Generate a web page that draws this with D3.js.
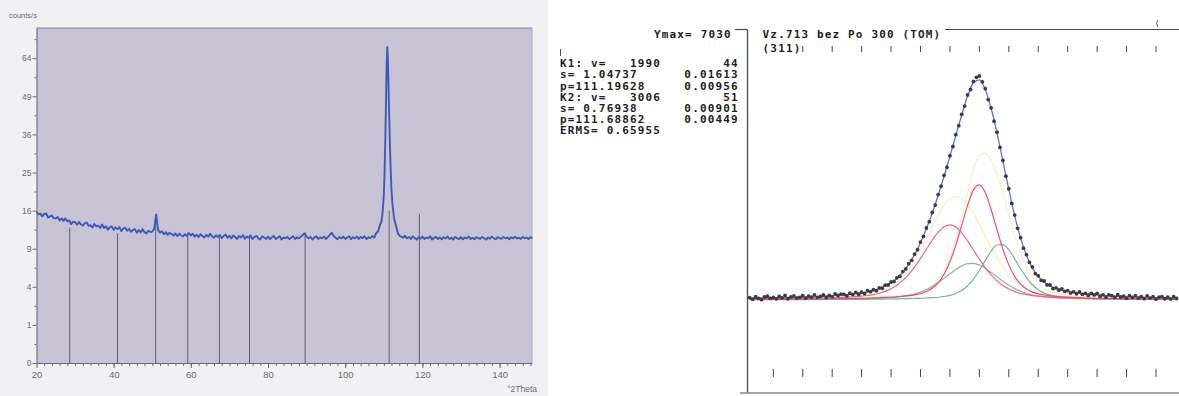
<!DOCTYPE html>
<html><head><meta charset="utf-8">
<script src="https://cdn.jsdelivr.net/npm/d3@7"></script>
<style>
html,body{margin:0;padding:0;background:#fff;}
svg{display:block;}
.mono{font-family:"DejaVu Sans Mono",monospace;font-weight:bold;font-size:11px;letter-spacing:1.15px;white-space:pre;fill:#1e1e22;}
</style></head><body>
<svg id="c" width="1179" height="396"></svg>
<script>
// ================= LEFT PANEL: XRD pattern (sqrt intensity scale) =================
const xrdLowStart = 20, xrdStep = 0.5;
const xrdLowCounts = [
 15.8,15.2,15.4,14.8,15.3,15.4,14.6,14.8,15.0,14.4,
 14.4,14.7,14.0,14.4,13.9,14.4,13.8,14.0,13.3,13.75,
 13.7,13.15,13.7,13.25,13.0,13.45,13.6,12.95,13.1,12.65,
 13.3,12.85,13.0,12.55,13.2,12.55,12.9,12.25,12.7,12.85,
 12.2,12.67,12.35,12.72,12.0,12.45,12.6,12.05,12.4,11.85,
 12.2,12.35,11.7,12.17,11.75,12.32,11.8,11.57,12.05,11.82,
 11.9,12.4,15.2,12.2,11.7,11.95,11.4,11.8,11.3,11.7,
 11.45,11.2,11.55,11.1,11.5,11.25,11.05,11.45,11.1,11.6,
 11.2,11.5,11.0,11.35,10.95,11.4,11.1,10.85,11.3,11.0,
 11.5,11.05,10.8,11.25,10.9,11.3,10.75,11.1,11.35,10.8,
 11.15,10.7,11.2,10.9,10.6,11.1,10.85,11.25,10.65,11.0,
 10.8,11.2,10.6,10.95,11.15,10.7,10.5,11.05,10.85,10.6,
 11.0,10.55,10.9,11.1,10.6,10.8,11.05,10.5,10.85,10.7,
 10.95,10.55,10.8,11.05,10.6,10.9,10.7,11.0,11.3,11.6,
 11.0,10.7,10.95,10.5,10.85,11.05,10.6,10.9,10.7,11.0,
 10.6,10.9,11.3,11.7,11.1,10.8,10.55,10.95,10.7,11.0,
 10.6,10.85,11.05,10.55,10.9,10.7,11.0,10.6,10.95,10.75,
 11.05,10.6,10.9,10.75,11.1,10.8
];
const peakTheta  = [108.0,108.5,109.0,109.4,109.7,110.0,110.2,110.4,110.6,110.75,110.9,111.05,111.2,111.4,111.6,111.8,112.0,112.3,112.7,113.2,113.7,114.2];
const peakCounts = [11.6,11.9,13.1,13.8,15.8,19.5,25,35,50,62,68.8,64,54,42,32,25,20.5,16.8,14.3,12.8,11.5,11.1];
const xrdHighStart = 114.5;
const xrdHighCounts = [
 11.0,10.8,11.15,10.7,10.95,10.6,11.05,10.75,10.5,10.9,10.65,
 11.0,10.6,10.85,10.7,11.05,10.5,10.8,10.95,10.6,10.85,
 10.55,10.9,10.7,11.0,10.6,10.8,10.5,10.95,10.7,10.6,
 10.9,10.55,10.85,10.7,11.0,10.6,10.8,10.55,10.9,10.75,
 10.6,10.95,10.7,10.5,10.85,10.65,11.0,10.7,10.55,10.9,
 10.75,10.6,10.95,10.7,10.85,10.55,10.9,10.7,11.0,10.65,
 10.8,10.6,10.95,10.7,10.85,10.6,10.9,10.75
];
const stickTheta  = [28.6, 41.0, 50.9, 59.2, 67.4, 75.2, 89.6, 111.4, 119.2];
const stickCounts = [12.6, 11.6, 15.2, 11.8, 10.9, 11.3, 11.3, 16.0, 15.3];
const yTickValues = [0,1,4,9,16,25,36,49,64];
const yMinorTicks = [0.25,2.25,6.25,12.25,20.25,30.25,42.25,56.25,72.25];
const xTickValues = [20,40,60,80,100,120,140];

// ================= RIGHT PANEL: profile fit of (311) =================
const infoLines = [
 "K1: v=   1990        44",
 "s= 1.04737      0.01613",
 "p=111.19628     0.00956",
 "K2: v=   3006        51",
 "s= 0.76938      0.00901",
 "p=111.68862     0.00449",
 "ERMS= 0.65955"
];
const ymaxLabel = "Ymax= 7030";
const fitTitle = "Vz.713 bez Po 300 (TOM)";
const reflexLabel = "(311)";
const topTickTheta    = [108.7,109.2,109.7,110.2,110.7,111.2,111.7,112.2,112.7,113.2,113.7,114.2,114.7];
const bottomTickTheta = [108.2,108.7,109.2,109.7,110.2,110.7,111.2,111.7,112.2,112.7,113.2,113.7,114.2,114.7];

const obsStart = 107.8, obsStep = 0.05;
const obsCounts = [
 2098,2063,2119,2083,2053,2113,2131,2083,2105,2072,
 2125,2095,2147,2074,2118,2137,2089,2106,2143,2088,
 2133,2108,2161,2107,2128,2158,2102,2149,2121,2181,
 2147,2178,
 2172,2137,2197,2167,2217,2175,2219,2190,2255,2231,
 2277,2254,2314,2308,2377,2380,2447,2458,2541,2574,
 2679,2738,2855,2929,3066,3165,3335,3463,3650,3790,
 3993,4159,4391,4580,4821,5000,5256,5462,5725,5926,
 6178,6360,6608,6730,6909,7000,7030,6900,6750,6505,
 6322,6023,5781,5440,5151,4800,4522,4195,3937,3642,
 3433,3200,3056,2882,2782,2633,2586,2482,2469,2383,
 2380,2300,2318,2265,2296,2237,2257,2201,2228,2186,
 2227,
 2173,2195,2149,2195,2159,2196,2130,2161,2110,2161,
 2143,2106,2163,2113,2132,2083,2143,2105,2143,2088,
 2122,2076,2140,2090,2121,2064,2108,2124,2075,2109,
 2067,2121,2080
];
const fitBackground = 2050;
const fitTheta = [107.8,108.6,109.0,
 109.4,109.5,109.6,109.7,109.8,109.9,110.0,110.1,110.2,110.3,110.4,110.5,110.6,110.7,110.8,110.9,111.0,
 111.1,111.2,111.3,111.4,111.5,111.6,111.7,111.8,111.9,112.0,112.1,112.2,112.3,112.4,112.5,112.6,112.7,112.8,112.9,113.0,
 113.2,113.4,113.8,114.4,115.05];
const k1Alpha1 = [16,28,38, 56,62,71,82,97,117,146,188,247,327,433,568,732,921,1125,1327,1505,1628,1670,1621,1492,1312,1108,905,718,556,423,319,241,184,144,116,95,81,70,62,55, 45,38,28,18,13];
const k1Alpha2 = [7,10,14, 19,21,23,25,28,32,36,42,50,61,77,99,131,174,229,300,384,479,579,676,756,805,813,776,704,611,511,413,325,250,190,143,108,83,66,53,44, 33,26,18,11,8];
const k2Alpha1 = [9,15,19, 27,29,32,35,39,43,48,54,61,69,80,93,112,140,185,258,379,570,848,1218,1657,2103,2446,2558,2386,2009,1557,1129,778,521,347,239,173,133,108,90,77, 59,47,31,19,13];
const k2Alpha2 = [4,6,7, 10,10,11,12,13,15,16,18,19,22,24,27,31,35,41,48,58,74,99,140,208,313,462,654,872,1081,1220,1230,1113,912,692,493,336,224,150,105,77, 50,36,22,12,8];
const k1Sum = [23,38,52, 75,83,94,107,125,149,182,230,297,388,510,667,863,1095,1354,1627,1889,2107,2249,2297,2248,2117,1921,1681,1422,1167,934,732,566,434,334,259,203,164,136,115,99, 78,64,46,29,21];
const k2Sum = [13,21,26, 37,39,43,47,52,58,64,72,80,91,104,120,143,175,226,306,437,644,947,1358,1865,2416,2908,3212,3258,3090,2777,2359,1891,1433,1039,732,509,357,258,195,154, 109,83,53,31,21];
const fitTotal = [36,59,78, 112,122,137,154,177,207,246,302,377,479,614,787,1006,1270,1580,1933,2326,2751,3196,3655,4113,4533,4829,4893,4680,4257,3711,3091,2457,1867,1373,991,712,521,394,310,253, 187,147,99,60,42];

// ================= DRAWING =================
const svg = d3.select('#c');
svg.append('rect').attr('x',0).attr('y',0).attr('width',1179).attr('height',396).attr('fill','#ffffff');
svg.append('rect').attr('x',0).attr('y',0).attr('width',548).attr('height',396).attr('fill','#f1f1f4');

const xL = d3.scaleLinear().domain([20,148.4]).range([36.5,532]);
const yL = d3.scaleSqrt().domain([0,77.3]).range([363,28]);

svg.append('rect').attr('x',xL(20)).attr('y',yL(77.3))
  .attr('width',xL(148.4)-xL(20)).attr('height',yL(0)-yL(77.3)).attr('fill','#c7c3d5');
svg.append('line').attr('x1',xL(20)).attr('x2',xL(148.4)).attr('y1',yL(77.3)).attr('y2',yL(77.3))
  .attr('stroke','#7e84a0').attr('stroke-width',1.2);
svg.append('line').attr('x1',xL(148.4)).attr('x2',xL(148.4)).attr('y1',yL(77.3)).attr('y2',yL(0))
  .attr('stroke','#aeacba').attr('stroke-width',1);

// sticks
svg.append('g').selectAll('line').data(stickTheta).join('line')
  .attr('x1',d=>xL(d)).attr('x2',d=>xL(d))
  .attr('y1',yL(0)).attr('y2',(d,i)=>yL(stickCounts[i]))
  .attr('stroke','#5f5d6b').attr('stroke-width',1);

// pattern
const xrdData = [];
xrdLowCounts.forEach((c,i)=>xrdData.push([xrdLowStart+i*xrdStep,c]));
peakTheta.forEach((t,i)=>xrdData.push([t,peakCounts[i]]));
xrdHighCounts.forEach((c,i)=>xrdData.push([xrdHighStart+i*xrdStep,c]));
svg.append('path').datum(xrdData)
  .attr('d',d3.line().x(d=>xL(d[0])).y(d=>yL(d[1])))
  .attr('fill','none').attr('stroke','#3d5ab8').attr('stroke-width',1.9).attr('stroke-linejoin','round');

function styleAxis(g){
  g.attr('font-family','"Liberation Sans Narrow","Liberation Sans",sans-serif').attr('font-size',8.5);
  g.selectAll('.domain').attr('stroke','#6a6978');
  g.selectAll('.tick line').attr('stroke','#6a6978');
  g.selectAll('.tick text').attr('fill','#6a6a72');
}
// y axis
const gy = svg.append('g').attr('transform',`translate(${xL(20)},0)`)
  .call(d3.axisLeft(yL).tickValues(yTickValues).tickSize(4).tickPadding(1).tickSizeOuter(0));
styleAxis(gy);
const gym = svg.append('g').attr('transform',`translate(${xL(20)},0)`)
  .call(d3.axisLeft(yL).tickValues(yMinorTicks).tickSize(2).tickFormat('').tickSizeOuter(0));
styleAxis(gym); gym.select('.domain').remove();
// x axis
const gx = svg.append('g').attr('transform',`translate(0,${yL(0)})`)
  .call(d3.axisBottom(xL).tickValues(xTickValues).tickSize(5).tickPadding(3).tickSizeOuter(0));
styleAxis(gx);
gx.selectAll('.tick text').attr('font-size',9.5);
const gxm = svg.append('g').attr('transform',`translate(0,${yL(0)})`)
  .call(d3.axisBottom(xL).tickValues(d3.range(22,149,2)).tickSize(3).tickFormat('').tickSizeOuter(0));
styleAxis(gxm); gxm.select('.domain').remove();

svg.append('text').attr('x',9).attr('y',18).text('counts/s')
  .attr('font-family','"Liberation Sans Narrow","Liberation Sans",sans-serif').attr('font-size',7.5).attr('fill','#6a6a72');
svg.append('text').attr('x',537).attr('y',392).attr('text-anchor','end').text('°2Theta')
  .attr('font-family','"Liberation Sans Narrow","Liberation Sans",sans-serif').attr('font-size',8.5).attr('fill','#6a6a72');

// ---------------- right panel ----------------
const xR = d3.scaleLinear().domain([108.2,114.7]).range([773.3,1156]);
const yR = d3.scaleLinear().domain([0,7030]).range([392,76]);

const tg = svg.append('g');
tg.append('text').attr('class','mono').attr('x',654).attr('y',38).text(ymaxLabel);
infoLines.forEach((s,i)=>tg.append('text').attr('class','mono').attr('x',560).attr('y',67.2+i*11.2).text(s));
tg.append('line').attr('x1',560.5).attr('x2',560.5).attr('y1',49).attr('y2',56).attr('stroke','#555').attr('stroke-width',1);
tg.append('text').attr('class','mono').attr('x',762.6).attr('y',38).text(fitTitle);
tg.append('text').attr('class','mono').attr('x',762.6).attr('y',51.5).text(reflexLabel);

// frame
const frame = '#4a4a50';
svg.append('line').attr('x1',735).attr('x2',747.5).attr('y1',29.5).attr('y2',29.5).attr('stroke',frame).attr('stroke-width',1.2);
svg.append('line').attr('x1',747.5).attr('x2',747.5).attr('y1',29.5).attr('y2',393).attr('stroke',frame).attr('stroke-width',1.3);
svg.append('line').attr('x1',945).attr('x2',1179).attr('y1',29.5).attr('y2',29.5).attr('stroke',frame).attr('stroke-width',1.2);
svg.append('line').attr('x1',740).attr('x2',1179).attr('y1',393).attr('y2',393).attr('stroke','#8a8a90').attr('stroke-width',1.6);
svg.append('path').attr('d','M1158,20 q-3,3 0,7').attr('fill','none').attr('stroke','#555').attr('stroke-width',1);

// ticks
svg.append('g').selectAll('line').data(topTickTheta).join('line')
  .attr('x1',d=>xR(d)).attr('x2',d=>xR(d)).attr('y1',46).attr('y2',52)
  .attr('stroke','#444').attr('stroke-width',1);
svg.append('g').selectAll('line').data(bottomTickTheta).join('line')
  .attr('x1',d=>xR(d)).attr('x2',d=>xR(d)).attr('y1',369).attr('y2',377)
  .attr('stroke','#444').attr('stroke-width',1);

svg.append('clipPath').attr('id','rc').append('rect').attr('x',748).attr('y',30).attr('width',431).attr('height',362);
const pg = svg.append('g').attr('clip-path','url(#rc)');
const lineR = arr => d3.line().x((d,i)=>xR(fitTheta[i])).y(d=>yR(fitBackground+d)).curve(d3.curveMonotoneX)(arr);
const comps = [
  [k1Sum,'#f4f0bc'],[k2Sum,'#f4f0bc'],
  [k1Alpha2,'#8db39c'],[k2Alpha2,'#6db3a6'],
  [k1Alpha1,'#ee6688'],[k2Alpha1,'#e74e7d']
];
comps.forEach(([arr,col])=>pg.append('path').attr('d',lineR(arr)).attr('fill','none').attr('stroke',col).attr('stroke-width',1.2));
pg.append('path').attr('d',lineR(fitTotal)).attr('fill','none').attr('stroke','#6470dc').attr('stroke-width',1.3);
pg.append('g').selectAll('circle').data(obsCounts).join('circle')
  .attr('cx',(d,i)=>xR(obsStart+i*obsStep)).attr('cy',d=>yR(d)).attr('r',1.9).attr('fill','#3b3a46');
</script>
</body></html>
